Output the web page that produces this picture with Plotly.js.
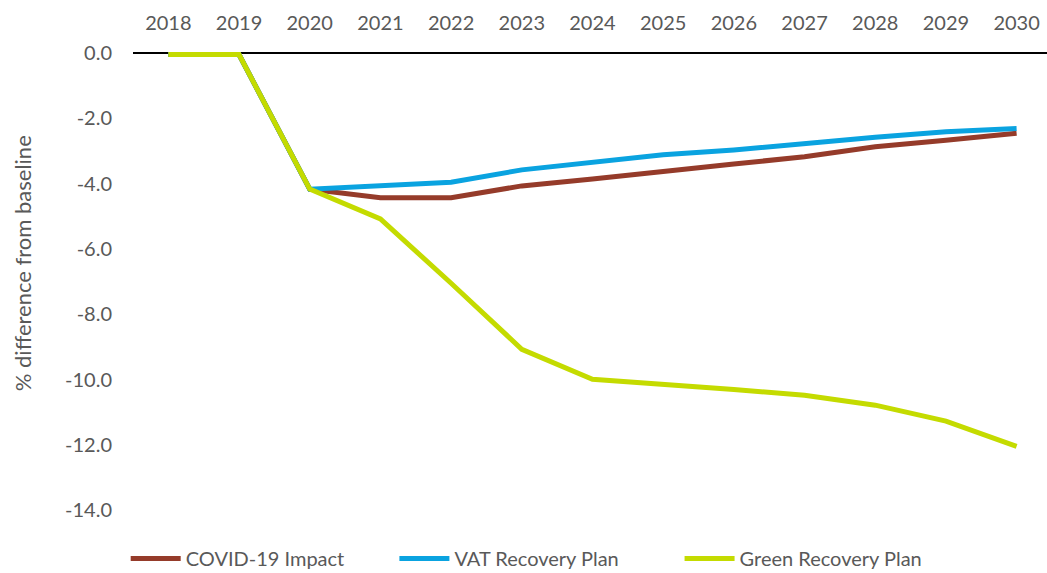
<!DOCTYPE html>
<html>
<head>
<meta charset="utf-8">
<script src="https://cdn.plot.ly/plotly-3.0.1.min.js"></script>
<style>html,body{margin:0;padding:0;background:#fff;}#chart{width:1047px;height:573px;}</style>
</head>
<body>
<div id="chart"></div>
<script>
const years = ['2018','2019','2020','2021','2022','2023','2024','2025','2026','2027','2028','2029','2030'];
const covidImpact = [-0.05, -0.05, -4.17, -4.43, -4.43, -4.07, -3.86, -3.62, -3.40, -3.18, -2.87, -2.67, -2.46];
const vatRecovery = [-0.05, -0.05, -4.17, -4.06, -3.96, -3.58, -3.34, -3.12, -2.97, -2.77, -2.58, -2.41, -2.31];
const greenRecovery = [-0.05, -0.05, -4.17, -5.08, -7.05, -9.07, -9.99, -10.14, -10.30, -10.48, -10.78, -11.27, -12.04];
const yTicks = [0, -2, -4, -6, -8, -10, -12, -14];
const yTickText = ['0.0', '-2.0', '-4.0', '-6.0', '-8.0', '-10.0', '-12.0', '-14.0'];

const font = {family: 'Lato, Liberation Sans, Arial, sans-serif', size: 20, color: '#595959'};
const titleFont = {family: 'Lato, Liberation Sans, Arial, sans-serif', size: 22, color: '#595959'};

const traces = [
  {x: years, y: covidImpact, name: 'COVID-19 Impact', type: 'scatter', mode: 'lines', line: {color: '#953B2A', width: 5}, legend: 'legend'},
  {x: years, y: vatRecovery, name: 'VAT Recovery Plan', type: 'scatter', mode: 'lines', line: {color: '#0AA3E0', width: 5}, legend: 'legend2'},
  {x: years, y: greenRecovery, name: 'Green Recovery Plan', type: 'scatter', mode: 'lines', line: {color: '#C4DB00', width: 5}, legend: 'legend3'}
];

const legBase = {orientation: 'h', xanchor: 'left', y: -0.10, yanchor: 'middle', font: font, itemwidth: 50, bgcolor: 'rgba(0,0,0,0)'};

const layout = {
  width: 1047, height: 573,
  margin: {l: 133, r: 0, t: 48, b: 61, autoexpand: false},
  paper_bgcolor: '#fff', plot_bgcolor: '#fff',
  font: font,
  showlegend: true,
  xaxis: {
    type: 'category', side: 'top', range: [-0.5, 12.43],
    showgrid: false, showline: false, zeroline: false, ticks: '',
    tickfont: font, ticklabelstandoff: 13
  },
  yaxis: {
    range: [-14.05, 0.15], tickvals: yTicks, ticktext: yTickText,
    showgrid: false, showline: false, ticks: '',
    zeroline: true, zerolinecolor: '#000', zerolinewidth: 2.5,
    tickfont: font, ticklabelstandoff: 20
  },
  legend: Object.assign({}, legBase, {x: -0.008}),
  legend2: Object.assign({}, legBase, {x: 0.286}),
  legend3: Object.assign({}, legBase, {x: 0.598}),
  annotations: [{
    text: '% difference from baseline', xref: 'paper', yref: 'paper',
    x: -0.121, y: 0.537, xanchor: 'center', yanchor: 'middle',
    showarrow: false, textangle: -90, font: titleFont
  }]
};

Plotly.newPlot('chart', traces, layout, {displayModeBar: false, staticPlot: true});
</script>
</body>
</html>
